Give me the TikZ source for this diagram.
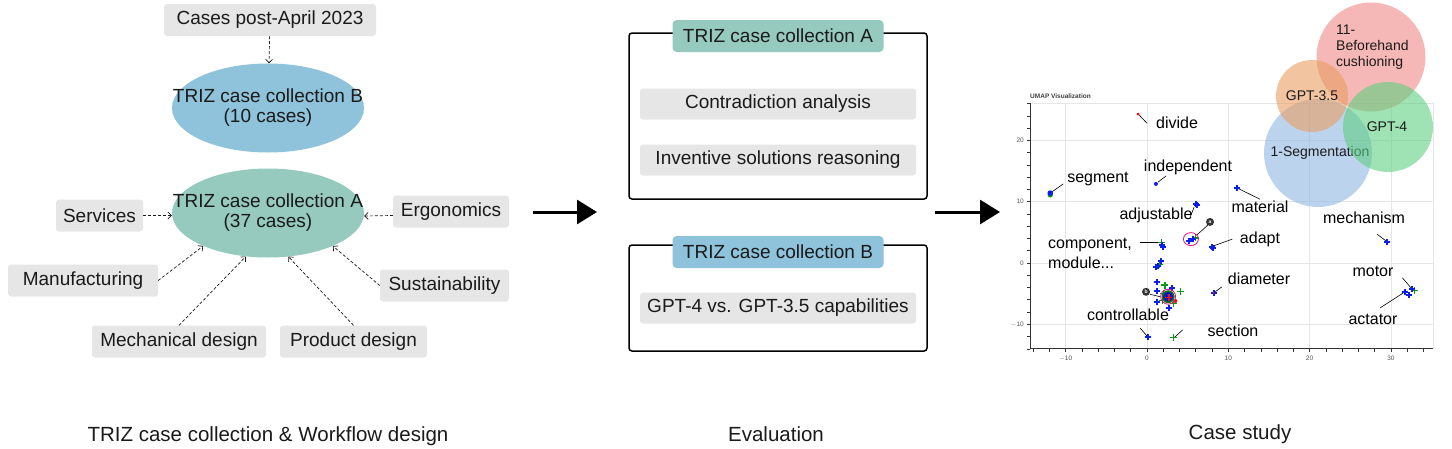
\documentclass[tikz,border=0pt]{standalone}
\usepackage{fontspec}
\setmainfont{Liberation Sans}
\usetikzlibrary{arrows.meta,shapes.geometric}
\definecolor{txt}{HTML}{1A1A1A}
\definecolor{boxgray}{HTML}{E6E6E6}
\definecolor{collA}{HTML}{96CABF}
\definecolor{collB}{HTML}{8EC3DB}
\definecolor{vred}{HTML}{EE8985}
\definecolor{vorange}{HTML}{E99D61}
\definecolor{vgreen}{HTML}{5FCF80}
\definecolor{vblue}{HTML}{8FB6E3}
\definecolor{gridc}{HTML}{E6E6E6}
\definecolor{plotblue}{HTML}{0A1EF0}
\definecolor{plotgreen}{HTML}{0A9A1A}
\definecolor{plotred}{HTML}{F01010}
\definecolor{ticktxt}{HTML}{555555}
\tikzset{
  bplus/.pic={\draw[line width=2pt, draw=plotblue] (-3pt,0) -- (3pt,0) (0,-3pt) -- (0,3pt);},
  gplus/.pic={\draw[line width=1.3pt, draw=plotgreen] (-3.5pt,0) -- (3.5pt,0) (0,-3.5pt) -- (0,3.5pt);},
  rplus/.pic={\draw[line width=1.6pt, draw=plotred] (-3.5pt,0) -- (3.5pt,0) (0,-3.5pt) -- (0,3.5pt);},
}
\begin{document}
\begin{tikzpicture}[x=1pt,y=-1pt,
  every node/.style={font=\fontsize{19}{20}\selectfont, text=txt, inner sep=0pt},
  graybox/.style={fill=boxgray, rounded corners=3pt, minimum height=32pt},
  collellipse/.style={ellipse, minimum width=192pt, minimum height=89pt},
  dasharrow/.style={draw=txt, dash pattern=on 3pt off 2pt, line width=0.7pt, -{Straight Barb[length=3.5pt,width=7pt]}},
  bigarrow/.style={draw=black, line width=3pt, -{Triangle[length=20pt,width=24pt]}},
  frame/.style={draw=black, line width=1.5pt, rounded corners=3pt, minimum width=298pt},
  titlebox/.style={rounded corners=4pt, minimum width=211pt, minimum height=32pt},
  taskbox/.style={fill=boxgray, rounded corners=3pt, minimum width=276pt, minimum height=31pt},
  caption/.style={font=\fontsize{20.5}{22}\selectfont},
  plotlab/.style={font=\fontsize{16}{20}\selectfont, text=black},
  venntxt/.style={font=\fontsize{14}{16}\selectfont, text=txt},
  vcircle/.style={circle, fill opacity=0.6},
  gridline/.style={draw=gridc, line width=0.6pt},
  axisline/.style={draw=black!80, line width=0.8pt},
  ticklab/.style={font=\fontsize{6.5}{7}\selectfont, text=ticktxt},
  leader/.style={draw=black, line width=0.6pt},
]
\useasboundingbox (0,0) rectangle (1452,448);

% ---------------- left panel ----------------
\node[graybox, minimum width=212pt] (cases) at (270,20) {Cases post-April 2023};
\node[collellipse, fill=collB] (B) at (268,108) {};
\node[align=center] (Btxt) at (268,108) {TRIZ case collection B\\(10 cases)};
\node[collellipse, fill=collA] (A) at (268,213) {};
\node[align=center] (Atxt) at (268,213) {TRIZ case collection A\\(37 cases)};
\node[graybox, minimum width=87pt] (serv) at (99.5,215.5) {Services};
\node[graybox, minimum width=116pt] (ergo) at (451,211.5) {Ergonomics};
\node[graybox, minimum width=150pt] (manu) at (83,280.5) {Manufacturing};
\node[graybox, minimum width=129pt] (sust) at (444.5,285.5) {Sustainability};
\node[graybox, minimum width=174pt] (mech) at (179,341.5) {Mechanical design};
\node[graybox, minimum width=147pt] (prod) at (353.5,341.5) {Product design};

\draw[dasharrow] (cases) -- (B);
\draw[dasharrow] (serv.east) -- (serv.east -| A.west);
\draw[dasharrow] ([yshift=-4pt]ergo.west) -- ([yshift=-3pt]A.east);
\draw[dasharrow] (manu.east) -- (A.207);
\draw[dasharrow] (sust.west) -- (A.333);
\draw[dasharrow] (mech.north) -- (A.243);
\draw[dasharrow] (prod.north) -- (A.295);

% ---------------- arrows between panels ----------------
\coordinate (arrAs) at (533,212);
\coordinate (arrAe) at (597,212);
\coordinate (arrBs) at (935,212);
\coordinate (arrBe) at (1000,212);
\draw[bigarrow] (arrAs) -- (arrAe);
\draw[bigarrow] (arrBs) -- (arrBe);

% ---------------- middle panel ----------------
\node[frame, minimum height=166pt] (frameA) at (778,116) {};
\node[frame, minimum height=106pt] (frameB) at (778,298) {};
\node[titlebox, fill=collA] (titleA) at (778,36) {TRIZ case collection A};
\node[titlebox, fill=collB] (titleB) at (778,252) {TRIZ case collection B};
\node[taskbox] (contra) at (778,104) {Contradiction analysis};
\node[taskbox] (invent) at (778,160) {Inventive solutions reasoning};
\node[taskbox] (gptcmp) at (778,308) {GPT-4 vs. GPT-3.5 capabilities};

% ---------------- right panel: UMAP plot ----------------
\node[font=\bfseries\fontsize{6.5}{7}\selectfont, text=black!75, anchor=west] (umaptitle) at (1030,96) {UMAP Visualization};
\begin{scope}[shift={(1147,263)}, x=8.13pt, y=6.13pt]
  \foreach \v in {-10,0,10,20,30} \draw[gridline] (\v,-14) -- (\v,26.1);
  \foreach \v in {-10,0,10,20} \draw[gridline] (-14.4,\v) -- (35.2,\v);
  \draw[gridline] (-14.4,26.1) -- (35.2,26.1) -- (35.2,-14);
  \draw[axisline] (-14.4,26.1) -- (-14.4,-14) -- (35.2,-14);
  \foreach \v in {-14,-12,...,34} \draw[axisline, line width=0.6pt] (\v,-14) -- ++(0,-3pt);
  \foreach \v in {-14,-12,...,26} \draw[axisline, line width=0.6pt] (-14.4,\v) -- ++(-3pt,0);
  \foreach \v/\l in {-10/$-$10,0/0,10/10,20/20,30/30}
    \node[ticklab, anchor=north] (xt\v) at ([yshift=-7pt]\v,-14) {\l};
  \foreach \v/\l in {-10/$-$10,0/0,10/10,20/20}
    \node[ticklab, anchor=east] (yt\v) at ([xshift=-6pt]-14.4,\v) {\l};

  % leader lines
  \draw[leader] (-0.86,24.0) -- (0,22.8);
  \draw[leader] (-11.7,11.6) -- (-10.3,12.9);
  \draw[leader] (1.35,13.2) -- (2.34,14.2);
  \draw[leader] (5.3,7.5) -- (5.8,9.1);
  \draw[leader] (11.3,12.1) -- (13.9,10.4);
  \draw[leader] (28.3,4.7) -- (29.4,3.6);
  \draw[leader] (10.5,3.9) -- (8.2,2.8);
  \draw[leader] (-0.86,3.3) -- (1.6,3.3);
  \draw[leader] (9.2,-3.9) -- (8.4,-4.7);
  \draw[leader] (31.4,-2.4) -- (32.5,-4.1);
  \draw[leader] (28.7,-7.3) -- (31.5,-4.9);
  \draw[leader] (-0.86,-10.6) -- (0,-11.9);
  \draw[leader] (4.4,-10.9) -- (3.4,-12.1);
  \draw[leader] (7.5,6.2) -- (6.15,4.6);
  \draw[leader] (0.37,-5.1) -- (1.6,-5.5);

  % markers
  \fill[plotgreen] (-11.9,11.1) circle (2.6pt);
  \fill[plotblue] (-11.9,11.4) circle (2.8pt);
  \fill[plotblue] (1.1,12.9) circle (2pt);
  \draw[draw=plotred!70!black, line width=0.8pt] (-1.1,24.3) -- (-0.86,24.0);
  \fill[plotred] (-1.1,24.3) circle (1.6pt);
  \foreach \p in {(1.8,3.4),(6.0,4.1),(1.5,-0.3),(2.2,-3.6),(4.1,-4.7),(2.0,-5.0),(3.3,-6.6),(1.9,-6.1),(32.9,-4.5),(3.3,-12.2)}
    \pic at \p {gplus};
  \foreach \p in {(6.0,9.6),(6.2,9.5),(11.1,12.2),(29.5,3.4),(8.0,2.6),(8.1,2.5),(2.0,2.6),(1.9,3.0),(5.2,3.6),(5.6,3.9),(1.7,0.3),(1.1,-0.7),(1.3,-0.5),(1.2,-3.1),(1.2,-4.6),(1.2,-6.4),(3.1,-4.1),(2.7,-7.3),(8.2,-4.9),(31.7,-4.7),(32.2,-5.2),(32.6,-4.3),(0.1,-12.1)}
    \pic at \p {bplus};
  \fill[plotred] (8.2,-4.9) circle (1pt);
  % central blob
  \fill[plotred] (3.5,-6.2) circle (2pt);
  \fill[plotgreen!80!black] (2.6,-5.5) circle (6.5pt);
  \fill[plotblue!80!black] (2.6,-5.5) circle (5pt);
  \draw[draw=magenta!80!purple, line width=0.8pt] (2.6,-5.5) circle (7.5pt);
  \pic at (2.7,-5.6) {rplus};
  % highlight ellipse a
  \draw[draw=magenta!80!purple, line width=0.8pt] (5.4,3.9) ellipse (7.5pt and 6.5pt);
  % badges
  \node[circle, fill=black!80, minimum size=8pt, font=\bfseries\fontsize{5}{5}\selectfont, text=white] (badgeA) at (7.75,6.7) {a};
  \node[circle, fill=black!80, minimum size=8pt, font=\bfseries\fontsize{5}{5}\selectfont, text=white] (badgeB) at (-0.12,-4.7) {b};
\end{scope}

% plot labels
\node[plotlab] (ldivide) at (1177,123) {divide};
\node[plotlab] (lsegment) at (1098,179) {segment};
\node[plotlab] (lindep) at (1188,167) {independent};
\node[plotlab] (ladjust) at (1156,215) {adjustable};
\node[plotlab] (lmaterial) at (1260,207) {material};
\node[plotlab] (lmech) at (1364,218) {mechanism};
\node[plotlab] (ladapt) at (1260,239) {adapt};
\node[plotlab, align=left, anchor=west] (lcomp) at (1048,253) {component,\\module...};
\node[plotlab] (ldiam) at (1259,279) {diameter};
\node[plotlab] (lmotor) at (1373,271) {motor};
\node[plotlab] (lactator) at (1373,319) {actator};
\node[plotlab] (lcontrol) at (1128,315) {controllable};
\node[plotlab] (lsection) at (1233,331) {section};

% Venn circles
\node[vcircle, fill=vred, minimum size=109pt] (cRed) at (1371,57) {};
\node[venntxt, align=left, anchor=west] (tRed) at (1336,47) {11-\\Beforehand\\cushioning};
\node[vcircle, fill=vblue, minimum size=108pt] (cBlue) at (1318,153) {};
\node[venntxt] (tBlue) at (1320,153) {1-Segmentation};
\node[vcircle, fill=vorange, minimum size=72pt] (cOrange) at (1312,96) {};
\node[venntxt] (tOrange) at (1312,96) {GPT-3.5};
\node[vcircle, fill=vgreen, minimum size=90pt] (cGreen) at (1388,127) {};
\node[venntxt] (tGreen) at (1387,127) {GPT-4};

% captions
\node[caption] (cap1) at (268,436) {TRIZ case collection \& Workflow design};
\node[caption] (cap2) at (776,434) {Evaluation};
\node[caption] (cap3) at (1240,434) {Case study};
\end{tikzpicture}
\end{document}
